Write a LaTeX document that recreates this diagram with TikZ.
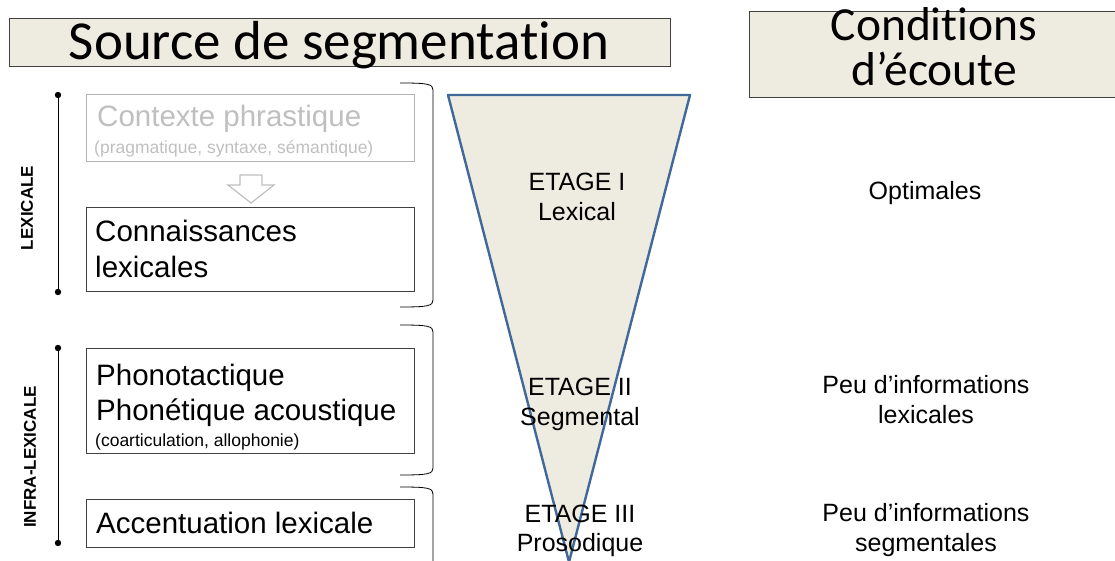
\documentclass[tikz,border=0pt]{standalone}
\usepackage{fontspec}
\setmainfont{Liberation Sans}
\newfontfamily\calib[Ligatures=NoCommon]{Carlito}
\definecolor{paper}{HTML}{EEECE1}
\definecolor{funnel}{HTML}{41689B}
\definecolor{boxline}{HTML}{404040}
\definecolor{faded}{HTML}{BFBFBF}
\tikzset{
  hdr/.style={fill=paper, draw=boxline, line width=1},
  srcbox/.style={draw=boxline, line width=1},
  big/.style={anchor=base west, inner sep=0, font=\fontsize{29.5}{30}\selectfont},
  small/.style={anchor=base west, inner sep=0, font=\fontsize{17.5}{18}\selectfont},
  mid/.style={anchor=base, inner sep=0, font=\fontsize{25}{26}\selectfont},
  levelname/.style={rotate=90, inner sep=0, font=\bfseries\fontsize{17}{18}\selectfont},
  brace/.style={draw=black, line width=0.8},
}
\begin{document}
\begin{tikzpicture}[x=1pt, y=-1pt]
\useasboundingbox (0,0) rectangle (1115,561);
% headers
\draw[hdr] (9,19) rectangle (670,67);
\node[anchor=base, inner sep=0, font=\calib\fontsize{55}{56}\selectfont] (srctitle) at (339,60) {Source de segmentation};
\draw[hdr] (749,12) rectangle (1120,98);
\node[anchor=south, inner sep=0, align=center, font=\calib\fontsize{47.5}{45}\selectfont] (cndtitle) at (934,86) {Conditions\\d’écoute};

% levels on the left
\draw[line width=1] (58,95) -- (58,292);
\fill (58,95) circle (3.2) (58,292) circle (3.2);
\node[levelname] (lexlevel) at (27,208) {LEXICALE};
\draw[line width=1] (58,348) -- (58,543);
\fill (58,348) circle (3.2) (58,543) circle (3.2);
\node[levelname] (infralevel) at (30,457) {INFRA-LEXICALE};

% source boxes
\draw[draw=faded!80!gray, line width=1] (86,95) rectangle (414,162);
\node[big, text=faded] (ctx) at (97,127) {Contexte phrastique};
\node[small, text=faded] (ctxsub) at (94,154) {(pragmatique, syntaxe, sémantique)};
\draw[faded, line width=1.2, fill=white] (240,175) -- (262,175) -- (262,185) -- (274,185) -- (251,203) -- (228,185) -- (240,185) -- cycle;
\draw[srcbox] (86,208) rectangle (414,291);
\node[big] (conn1) at (95,241) {Connaissances};
\node[big] (conn2) at (95,277) {lexicales};
\draw[srcbox] (86,348) rectangle (414,453);
\node[big] (phono1) at (96,385) {Phonotactique};
\node[big] (phono2) at (96,420) {Phonétique acoustique};
\node[small] (phono3) at (95,446) {(coarticulation, allophonie)};
\draw[srcbox] (86,499) rectangle (414,547);
\node[big] (accent) at (96,533) {Accentuation lexicale};

% brackets
\draw[brace] (400,83) .. controls (428,83) and (433,84) .. (433,90) -- (433,300) .. controls (433,306) and (428,307) .. (400,307);
\draw[brace] (400,325) .. controls (428,325) and (433,326) .. (433,332) -- (433,468) .. controls (433,474) and (428,475) .. (400,475);
\draw[brace] (400,487) .. controls (428,487) and (433,488) .. (433,494) -- (433,570);

% funnel
\draw[fill=paper, draw=funnel, line width=2.4, line join=round] (448,95) -- (690,95) -- (569,562) -- cycle;
\node[mid] (et1a) at (577,191) {ETAGE I};
\node[mid] (et1b) at (577,221) {Lexical};
\node[mid] (et2a) at (580,395) {ETAGE II};
\node[mid] (et2b) at (580,425) {Segmental};
\node[mid] (et3a) at (580,522) {ETAGE III};
\node[mid] (et3b) at (580,551) {Prosodique};

% listening conditions
\node[mid] (cond1) at (925,200) {Optimales};
\node[mid] (cond2a) at (926,393) {Peu d’informations};
\node[mid] (cond2b) at (926,423) {lexicales};
\node[mid] (cond3a) at (926,521) {Peu d’informations};
\node[mid] (cond3b) at (926,551) {segmentales};
\end{tikzpicture}
\end{document}
